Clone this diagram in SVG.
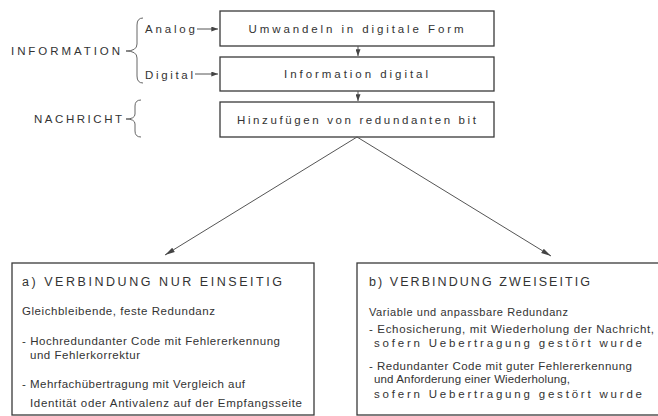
<svg xmlns="http://www.w3.org/2000/svg" width="658" height="416" viewBox="0 0 658 416">
<style>
.box{fill:#fff;stroke:#3a3a3a;stroke-width:1.3}
.ln{fill:none;stroke:#555;stroke-width:1}
.br{fill:none;stroke:#666;stroke-width:1}
text{font-family:"Liberation Sans","DejaVu Sans",Arial,sans-serif;fill:#333}
.t{font-size:11.5px}
.h{font-size:12.5px}
.b{font-size:11.5px}
.s{font-size:11px}
</style>
<defs>
<marker id="ah" viewBox="0 0 10 6" refX="10" refY="3" markerWidth="10" markerHeight="6" markerUnits="userSpaceOnUse" orient="auto">
<path d="M0,0.5 L10,3 L0,5.5 Z" fill="#444"/>
</marker>
<marker id="ahs" viewBox="0 0 8 6" refX="8" refY="3" markerWidth="7" markerHeight="5" markerUnits="userSpaceOnUse" orient="auto">
<path d="M0,0 L8,3 L0,6 Z" fill="#444"/>
</marker>
</defs>
<g id="labels">
<text class="t" x="11" y="55" textLength="109" lengthAdjust="spacing">INFORMATION</text>
<path class="br" d="M143,18 Q137,18 137,25 L137,44 Q137,51 126,51 Q137,51 137,58 L137,76 Q137,83 143,83"/>
<text class="t" x="34" y="123" textLength="88" lengthAdjust="spacing">NACHRICHT</text>
<path class="br" d="M141,100 Q135,100 135,106 L135,114 Q135,119 126,119 Q135,119 135,124 L135,131 Q135,137 141,137"/>
<text class="t" x="145" y="33" textLength="50" lengthAdjust="spacing">Analog</text>
<text class="t" x="145" y="79" textLength="48" lengthAdjust="spacing">Digital</text>
</g>
<g id="n1"><rect class="box" x="220" y="11" width="274" height="35"/>
<text class="t" x="356" y="32.5" text-anchor="middle" textLength="215" lengthAdjust="spacing">Umwandeln in digitale Form</text></g>
<g id="n2"><rect class="box" x="220" y="57" width="274" height="34"/>
<text class="t" x="356" y="78" text-anchor="middle" textLength="144" lengthAdjust="spacing">Information digital</text></g>
<g id="n3"><rect class="box" x="220" y="102" width="274" height="35"/>
<text class="t" x="356.5" y="123.5" text-anchor="middle" textLength="239" lengthAdjust="spacing">Hinzufügen von redundanten bit</text></g>
<g id="na"><rect class="box" x="12" y="263" width="302" height="152"/>
<text class="h" x="22" y="285.5" textLength="260" lengthAdjust="spacing">a)  VERBINDUNG NUR EINSEITIG</text>
<text class="b" x="22" y="315" textLength="193" lengthAdjust="spacing">Gleichbleibende, feste Redundanz</text>
<text class="b" x="22" y="345" textLength="258" lengthAdjust="spacing">- Hochredundanter Code mit Fehlererkennung</text>
<text class="b" x="30" y="359" textLength="110" lengthAdjust="spacing">und Fehlerkorrektur</text>
<text class="b" x="22" y="388" textLength="223" lengthAdjust="spacing">- Mehrfachübertragung mit Vergleich auf</text>
<text class="b" x="30" y="407" textLength="272" lengthAdjust="spacing">Identität oder Antivalenz auf der Empfangsseite</text>
</g>
<g id="nb"><rect class="box" x="357" y="263" width="310" height="152"/>
<text class="h" x="369" y="286" textLength="221" lengthAdjust="spacing">b)  VERBINDUNG ZWEISEITIG</text>
<text class="s" x="369" y="315.5" textLength="199" lengthAdjust="spacing">Variable und anpassbare Redundanz</text>
<text class="b" x="369" y="333" textLength="285" lengthAdjust="spacing">- Echosicherung, mit Wiederholung der Nachricht,</text>
<text class="b" x="374" y="347" textLength="268" lengthAdjust="spacing">sofern Uebertragung gestört wurde</text>
<text class="b" x="369" y="370" textLength="263" lengthAdjust="spacing">- Redundanter Code mit guter Fehlererkennung</text>
<text class="b" x="374" y="383" textLength="196" lengthAdjust="spacing">und Anforderung einer Wiederholung,</text>
<text class="b" x="374" y="398" textLength="268" lengthAdjust="spacing">sofern Uebertragung gestört wurde</text>
</g>
<g id="connectors">
<line class="ln" x1="197" y1="29" x2="218" y2="29" marker-end="url(#ahs)"/>
<line class="ln" x1="195" y1="74" x2="218" y2="74" marker-end="url(#ahs)"/>
<line class="ln" x1="358" y1="46" x2="358" y2="56" marker-end="url(#ahs)"/>
<line class="ln" x1="358" y1="91" x2="358" y2="101" marker-end="url(#ahs)"/>
<line class="ln" x1="357" y1="137" x2="165" y2="255" marker-end="url(#ah)"/>
<line class="ln" x1="357" y1="137" x2="551" y2="256" marker-end="url(#ah)"/>
</g>
</svg>
